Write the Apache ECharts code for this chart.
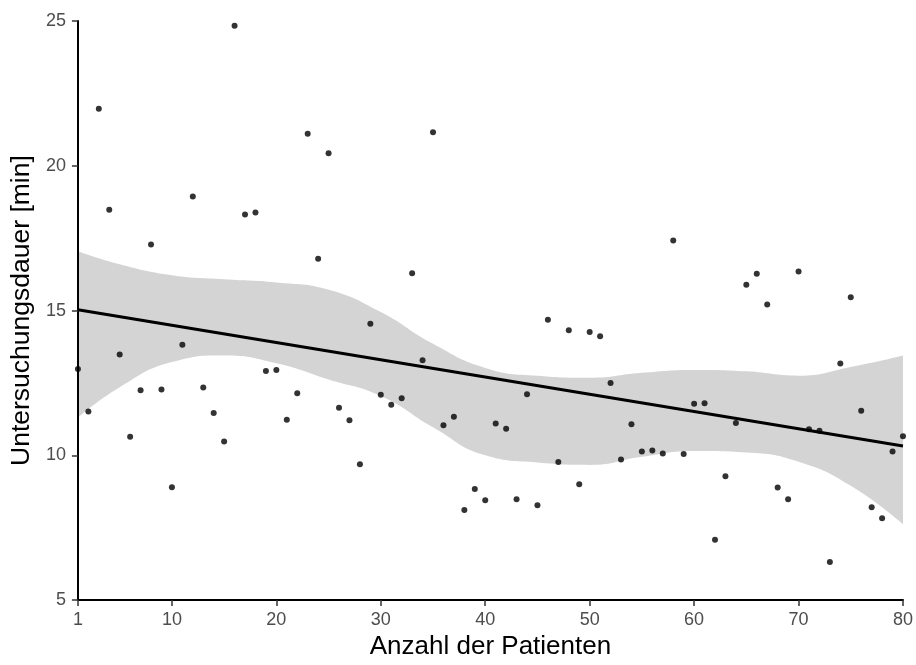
<!DOCTYPE html>
<html>
<head>
<meta charset="utf-8">
<script src="https://cdn.jsdelivr.net/npm/echarts@6/dist/echarts.min.js"></script>
<style>html,body{margin:0;padding:0;background:#fff}#c{width:916px;height:665px}</style>
</head>
<body>
<div id="c"></div>
<script>
// Scatter data: patient number and examination duration [min]
var patients = [1,2,3,4,5,6,7,8,9,10,11,12,13,14,15,16,17,18,19,20,21,22,23,24,25,26,27,28,29,30,31,32,33,34,35,36,37,38,39,40,41,42,43,44,45,46,47,48,49,50,51,52,53,54,55,56,57,58,59,60,61,62,63,64,65,66,67,68,69,70,71,72,73,74,75,76,77,78,79,80];
var durations = [12.98,11.51,21.97,18.48,13.48,10.64,12.25,17.28,12.27,8.90,13.82,18.94,12.34,11.46,10.48,24.84,18.32,18.39,12.91,12.95,11.23,12.14,21.11,16.79,20.43,11.64,11.21,9.69,14.54,12.09,11.75,11.97,16.29,13.28,21.16,11.04,11.33,8.11,8.84,8.45,11.10,10.92,8.48,12.11,8.28,14.68,9.77,14.32,9.00,14.26,14.11,12.50,9.86,11.07,10.13,10.17,10.06,17.42,10.05,11.78,11.80,7.08,9.28,11.12,15.89,16.27,15.21,8.89,8.48,16.35,10.90,10.85,6.32,13.17,15.46,11.54,8.21,7.83,10.13,10.66];

// Fitted line
var fitX = [1, 80];
var fitY = [15.03, 10.32];

// Confidence band
var bandX = [1,5,10,15,20,25,30,35,40,45,50,55,60,65,70,75,80];
var bandUpper = [17.05,16.6,16.22,16.08,15.97,15.72,14.95,13.85,13.02,12.75,12.68,12.85,12.95,12.9,12.75,13.05,13.45];
var bandLower = [11.3,12.35,13.22,13.45,13.18,12.62,12.05,10.97,10.0,9.75,9.67,9.95,10.15,10.1,9.78,8.95,7.62];

// Axis ticks
var xTicks = [1,10,20,30,40,50,60,70,80];
var yTicks = [5,10,15,20,25];

var FONT = 'Liberation Sans, Arial, sans-serif';

var upperData = bandX.map(function(x,i){return [x, bandUpper[i]];});
var lowerData = bandX.map(function(x,i){return [x, bandLower[i]];});
var pts = patients.map(function(x,i){return [x, durations[i]];});
var fit = fitX.map(function(x,i){return [x, fitY[i]];});

var chart = echarts.init(document.getElementById('c'), null, {renderer:'canvas'});
chart.setOption({
  animation:false,
  backgroundColor:'#ffffff',
  grid:{left:77, right:13, top:21, bottom:60, containLabel:false},
  xAxis:{
    type:'value', min:1, max:80, z:10,
    name:'Anzahl der Patienten', nameLocation:'middle', nameGap:33,
    nameTextStyle:{color:'#000', fontSize:26, fontFamily:FONT},
    axisLine:{show:true, onZero:false, lineStyle:{color:'#000', width:2}},
    axisTick:{show:true, length:6, lineStyle:{color:'#333', width:1.5}, customValues:xTicks},
    axisLabel:{color:'#4d4d4d', fontSize:18, fontFamily:FONT, margin:11, customValues:xTicks},
    splitLine:{show:false}
  },
  yAxis:{
    type:'value', min:5, max:25, interval:5, z:10,
    name:'Untersuchungsdauer [min]', nameLocation:'middle', nameGap:38,
    nameTextStyle:{color:'#000', fontSize:26.5, fontFamily:FONT},
    axisLine:{show:true, onZero:false, lineStyle:{color:'#000', width:2}},
    axisTick:{show:true, length:6, lineStyle:{color:'#333', width:1.5}, customValues:yTicks},
    axisLabel:{color:'#4d4d4d', fontSize:18, fontFamily:FONT, margin:12, customValues:yTicks},
    splitLine:{show:false}
  },
  series:[
    {type:'line', data:upperData, smooth:0.5, symbol:'none', lineStyle:{opacity:0}, areaStyle:{color:'#d4d4d4', opacity:1, origin:'start'}, z:1, silent:true},
    {type:'line', data:lowerData, smooth:0.5, symbol:'none', lineStyle:{opacity:0}, areaStyle:{color:'#ffffff', opacity:1, origin:'start'}, z:1, silent:true},
    {type:'scatter', data:pts, symbol:'circle', symbolSize:6, itemStyle:{color:'#000'}, z:3},
    {type:'line', data:fit, symbol:'none', lineStyle:{color:'#000', width:3}, z:4}
  ]
});
</script>
</body>
</html>
